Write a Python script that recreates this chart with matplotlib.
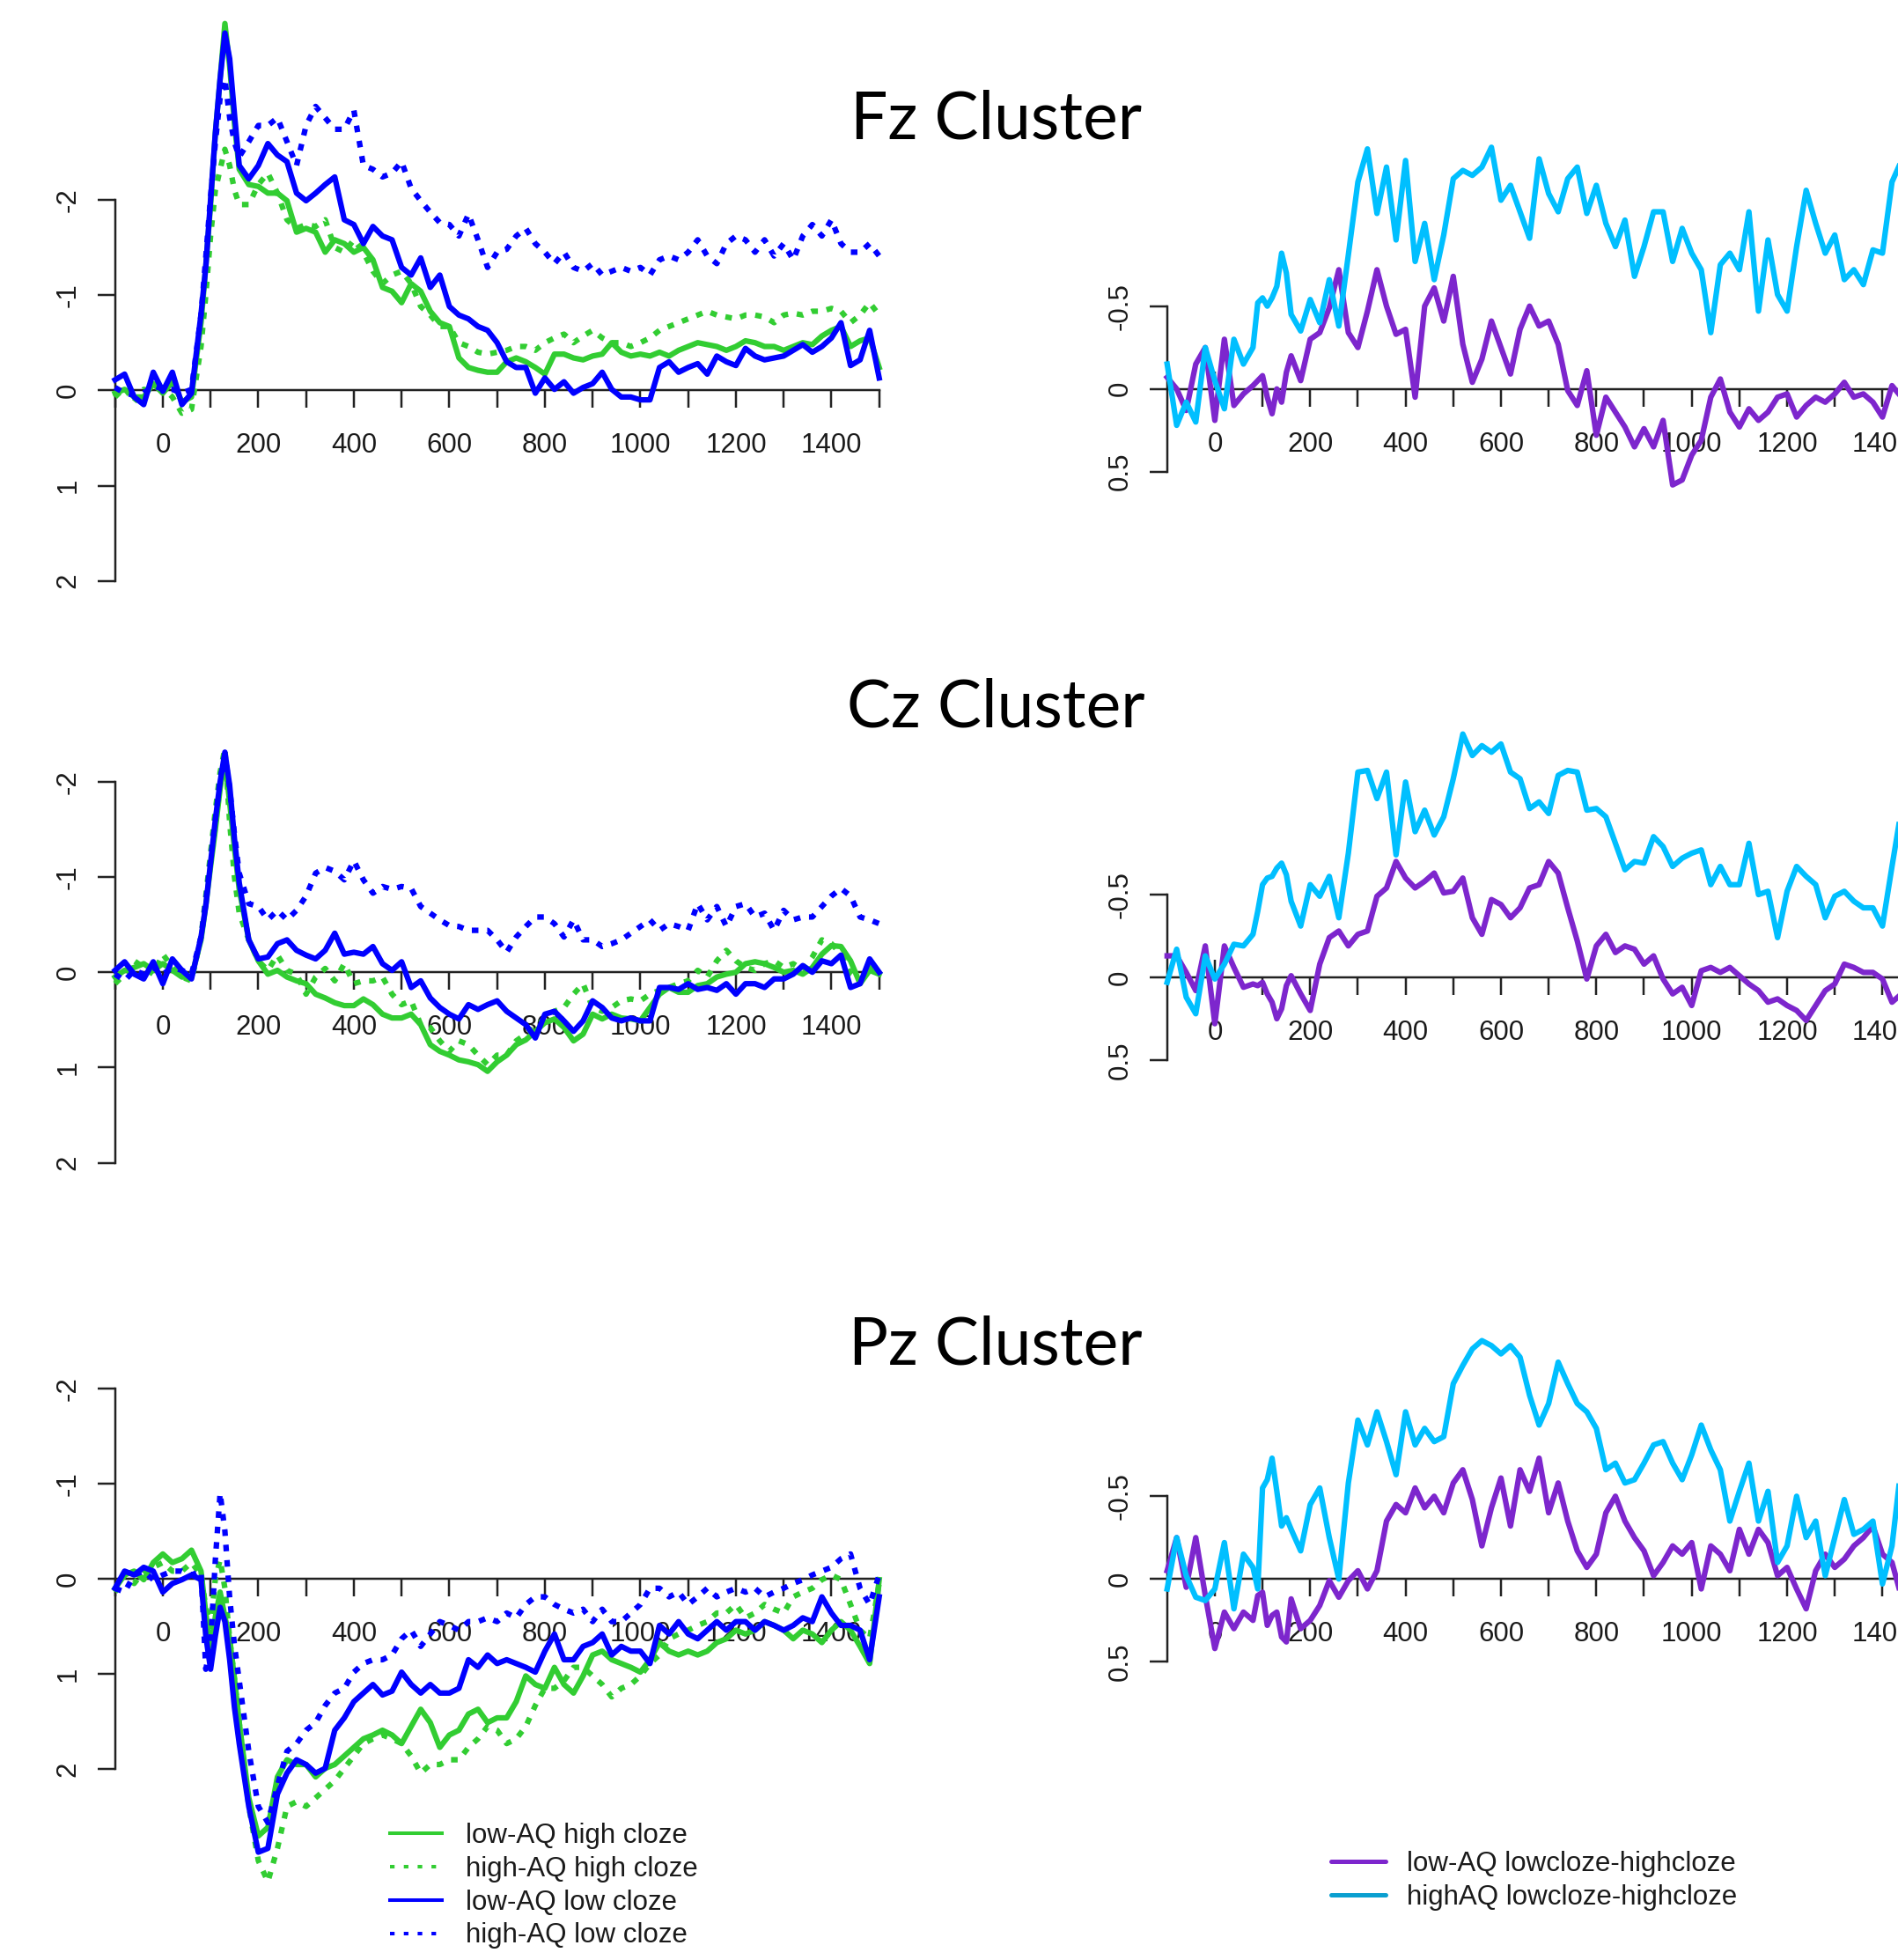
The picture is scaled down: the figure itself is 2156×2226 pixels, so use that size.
import matplotlib.pyplot as plt
from matplotlib.lines import Line2D

plt.rcParams['font.family'] = 'Liberation Sans'

# Sample times (ms); extra samples around the early peak
TIME = [-100, -80, -60, -40, -20, 0, 20, 40, 60, 80,
        90, 100, 110, 120, 130, 140, 150, 160] + list(range(180, 1501, 20))
TIME_DIFF = TIME[:82]  # difference waves, up to 1440 ms

# ---- Fz cluster, grand averages (uV, negative up) ----
fz_lowaq_high = [0.03, -0.01, 0.07, 0.07, -0.07, 0.03, -0.09, 0.12, 0.07, -0.71,
                 -1.30, -1.95, -2.70, -3.27, -3.85, -3.40, -2.80, -2.32,
                 -2.16, -2.14, -2.07, -2.07, -1.99, -1.66, -1.70, -1.66, -1.45, -1.58,
                 -1.54, -1.45, -1.50, -1.37, -1.08, -1.04, -0.92, -1.12, -1.04, -0.83,
                 -0.71, -0.67, -0.34, -0.24, -0.21, -0.19, -0.19, -0.30, -0.34, -0.30,
                 -0.24, -0.17, -0.38, -0.38, -0.34, -0.32, -0.36, -0.38, -0.50, -0.40,
                 -0.36, -0.38, -0.36, -0.40, -0.36, -0.42, -0.46, -0.50, -0.48, -0.46,
                 -0.42, -0.46, -0.52, -0.50, -0.46, -0.46, -0.42, -0.46, -0.50, -0.48,
                 -0.57, -0.63, -0.67, -0.46, -0.52, -0.55, -0.24]
fz_highaq_high = [0.07, -0.03, 0.12, -0.01, 0.01, -0.03, 0.07, 0.24, 0.20, -0.46,
                  -1.00, -1.62, -2.10, -2.32, -2.53, -2.36, -2.10, -1.95,
                  -1.95, -2.16, -2.28, -2.07, -1.79, -1.70, -1.74, -1.72, -1.79, -1.50,
                  -1.45, -1.58, -1.45, -1.25, -1.12, -1.21, -1.25, -1.12, -0.88, -0.79,
                  -0.67, -0.67, -0.50, -0.46, -0.40, -0.38, -0.40, -0.42, -0.46, -0.46,
                  -0.42, -0.50, -0.55, -0.59, -0.50, -0.57, -0.63, -0.55, -0.50, -0.50,
                  -0.46, -0.50, -0.55, -0.63, -0.67, -0.71, -0.75, -0.79, -0.83, -0.79,
                  -0.77, -0.75, -0.79, -0.79, -0.77, -0.71, -0.79, -0.81, -0.79, -0.83,
                  -0.83, -0.86, -0.83, -0.71, -0.79, -0.92, -0.79]
fz_lowaq_low = [-0.11, -0.17, 0.07, 0.15, -0.19, 0.01, -0.19, 0.15, 0.03, -0.80,
                -1.30, -2.00, -2.70, -3.27, -3.75, -3.48, -2.90, -2.36,
                -2.22, -2.36, -2.59, -2.47, -2.40, -2.07, -1.99, -2.07, -2.16, -2.24,
                -1.79, -1.74, -1.54, -1.72, -1.62, -1.58, -1.29, -1.21, -1.39, -1.08,
                -1.21, -0.88, -0.79, -0.75, -0.67, -0.63, -0.50, -0.30, -0.24, -0.24,
                0.03, -0.13, -0.01, -0.09, 0.03, -0.03, -0.07, -0.19, -0.01, 0.07,
                0.07, 0.10, 0.10, -0.24, -0.30, -0.19, -0.24, -0.28, -0.17, -0.36,
                -0.30, -0.26, -0.44, -0.36, -0.32, -0.34, -0.36, -0.42, -0.48, -0.40,
                -0.46, -0.55, -0.71, -0.26, -0.32, -0.63, -0.13]
fz_highaq_low = [-0.03, 0.03, 0.05, 0.03, -0.05, -0.01, -0.01, 0.03, -0.01, -0.79,
                 -1.40, -2.03, -2.60, -3.07, -3.27, -2.86, -2.60, -2.45,
                 -2.61, -2.78, -2.78, -2.86, -2.61, -2.36, -2.78, -2.98, -2.86, -2.74,
                 -2.74, -2.94, -2.36, -2.32, -2.24, -2.28, -2.40, -2.12, -1.99, -1.87,
                 -1.76, -1.74, -1.62, -1.85, -1.58, -1.29, -1.45, -1.48, -1.62, -1.70,
                 -1.54, -1.45, -1.33, -1.45, -1.29, -1.25, -1.33, -1.21, -1.25, -1.29,
                 -1.25, -1.29, -1.21, -1.37, -1.41, -1.37, -1.45, -1.58, -1.41, -1.33,
                 -1.54, -1.62, -1.58, -1.45, -1.58, -1.41, -1.54, -1.37, -1.62, -1.74,
                 -1.62, -1.79, -1.54, -1.45, -1.45, -1.54, -1.41]

# ---- Cz cluster ----
cz_lowaq_high = [0.05, -0.02, -0.05, -0.09, -0.02, -0.09, -0.02, 0.05, 0.05, -0.34,
                 -0.70, -1.11, -1.50, -1.93, -2.24, -1.78, -1.30, -0.87,
                 -0.34, -0.12, 0.02, -0.02, 0.05, 0.09, 0.12, 0.23, 0.27, 0.32,
                 0.35, 0.35, 0.28, 0.34, 0.44, 0.48, 0.48, 0.44, 0.55, 0.76,
                 0.83, 0.87, 0.92, 0.94, 0.97, 1.04, 0.94, 0.87, 0.76, 0.71,
                 0.62, 0.53, 0.49, 0.58, 0.72, 0.65, 0.44, 0.49, 0.44, 0.48,
                 0.49, 0.51, 0.37, 0.23, 0.16, 0.21, 0.21, 0.14, 0.12, 0.05,
                 0.02, 0.00, -0.09, -0.11, -0.09, -0.05, 0.00, -0.02, 0.02, -0.05,
                 -0.19, -0.28, -0.27, -0.12, 0.12, -0.02, 0.02]
cz_highaq_high = [0.12, 0.02, -0.12, -0.05, 0.02, -0.19, -0.05, 0.05, 0.09, -0.37,
                  -0.80, -1.25, -1.70, -2.10, -2.35, -1.57, -1.00, -0.62,
                  -0.34, -0.12, -0.02, -0.18, -0.02, 0.02, 0.23, 0.05, -0.04, 0.09,
                  -0.09, 0.12, 0.09, 0.09, 0.05, 0.23, 0.34, 0.30, 0.55, 0.58,
                  0.72, 0.83, 0.72, 0.76, 0.87, 0.97, 0.87, 0.87, 0.72, 0.65,
                  0.58, 0.48, 0.41, 0.37, 0.23, 0.12, 0.37, 0.41, 0.37, 0.30,
                  0.28, 0.30, 0.23, 0.19, 0.16, 0.12, 0.09, -0.02, 0.05, -0.12,
                  -0.23, -0.12, -0.05, -0.02, -0.09, -0.12, -0.05, -0.09, -0.02, -0.16,
                  -0.34, -0.30, -0.19, 0.02, 0.09, -0.05, 0.02]
cz_lowaq_low = [-0.02, -0.11, 0.02, 0.07, -0.11, 0.12, -0.14, -0.02, 0.07, -0.37,
                -0.70, -1.15, -1.60, -2.00, -2.31, -1.96, -1.40, -0.94,
                -0.34, -0.14, -0.16, -0.30, -0.34, -0.23, -0.18, -0.14, -0.23, -0.41,
                -0.19, -0.21, -0.19, -0.27, -0.09, -0.02, -0.11, 0.16, 0.09, 0.27,
                0.37, 0.44, 0.49, 0.34, 0.39, 0.34, 0.30, 0.41, 0.48, 0.55,
                0.69, 0.44, 0.41, 0.51, 0.62, 0.51, 0.30, 0.37, 0.48, 0.51,
                0.48, 0.51, 0.51, 0.16, 0.16, 0.18, 0.12, 0.18, 0.16, 0.19,
                0.12, 0.23, 0.12, 0.12, 0.16, 0.07, 0.07, 0.02, -0.07, 0.00,
                -0.12, -0.09, -0.18, 0.16, 0.12, -0.14, 0.00]
cz_highaq_low = [0.02, 0.09, -0.02, 0.02, -0.05, 0.02, -0.05, -0.02, 0.02, -0.37,
                 -0.75, -1.18, -1.60, -2.03, -2.28, -1.93, -1.45, -1.04,
                 -0.72, -0.69, -0.55, -0.65, -0.55, -0.65, -0.80, -1.04, -1.10, -1.06,
                 -0.97, -1.17, -0.97, -0.83, -0.90, -0.87, -0.90, -0.88, -0.69, -0.62,
                 -0.55, -0.49, -0.48, -0.44, -0.44, -0.44, -0.34, -0.21, -0.37, -0.48,
                 -0.58, -0.58, -0.51, -0.37, -0.55, -0.34, -0.34, -0.27, -0.30, -0.34,
                 -0.41, -0.48, -0.55, -0.44, -0.51, -0.48, -0.44, -0.72, -0.55, -0.69,
                 -0.48, -0.69, -0.72, -0.58, -0.62, -0.44, -0.65, -0.55, -0.58, -0.58,
                 -0.69, -0.80, -0.88, -0.80, -0.58, -0.55, -0.51]

# ---- Pz cluster ----
pz_lowaq_high = [0.10, -0.04, -0.08, 0.01, -0.17, -0.26, -0.17, -0.21, -0.30, -0.08,
                 0.36, 0.76, 0.40, 0.14, 0.40, 0.63, 1.05, 1.51,
                 2.30, 2.70, 2.61, 2.08, 1.90, 1.95, 1.95, 2.08, 1.99, 1.95,
                 1.86, 1.77, 1.68, 1.64, 1.59, 1.64, 1.73, 1.55, 1.37, 1.51,
                 1.77, 1.64, 1.59, 1.42, 1.37, 1.51, 1.46, 1.46, 1.29, 1.02,
                 1.11, 1.15, 0.93, 1.11, 1.20, 1.02, 0.80, 0.76, 0.85, 0.89,
                 0.93, 0.98, 0.85, 0.67, 0.76, 0.80, 0.76, 0.80, 0.76, 0.67,
                 0.63, 0.54, 0.58, 0.54, 0.45, 0.49, 0.54, 0.63, 0.54, 0.58,
                 0.67, 0.54, 0.45, 0.54, 0.71, 0.89, 0.01]
pz_highaq_high = [0.14, -0.04, 0.05, -0.08, -0.12, -0.17, -0.08, -0.08, -0.17, -0.04,
                  0.30, 0.50, 0.00, -0.20, 0.10, 0.63, 1.05, 1.51,
                  2.39, 2.96, 3.18, 2.83, 2.39, 2.34, 2.39, 2.30, 2.21, 2.12,
                  1.99, 1.86, 1.73, 1.68, 1.64, 1.68, 1.73, 1.86, 2.04, 1.95,
                  1.95, 1.90, 1.90, 1.77, 1.68, 1.55, 1.59, 1.73, 1.68, 1.55,
                  1.33, 1.15, 1.15, 1.07, 0.93, 0.93, 1.02, 1.11, 1.24, 1.15,
                  1.11, 1.02, 0.89, 0.80, 0.63, 0.58, 0.54, 0.49, 0.45, 0.36,
                  0.36, 0.27, 0.41, 0.36, 0.27, 0.32, 0.36, 0.19, 0.14, 0.10,
                  0.01, -0.04, 0.01, 0.27, 0.54, 0.63, 0.05]
pz_lowaq_low = [0.10, -0.08, -0.04, -0.12, -0.08, 0.14, 0.05, 0.01, -0.04, 0.01,
                0.60, 0.95, 0.60, 0.30, 0.45, 0.85, 1.35, 1.73,
                2.39, 2.87, 2.83, 2.26, 2.04, 1.90, 1.95, 2.04, 1.99, 1.59,
                1.46, 1.29, 1.20, 1.11, 1.22, 1.18, 0.98, 1.11, 1.20, 1.11,
                1.20, 1.20, 1.15, 0.85, 0.93, 0.80, 0.89, 0.85, 0.89, 0.93,
                0.98, 0.76, 0.58, 0.85, 0.85, 0.71, 0.67, 0.58, 0.80, 0.71,
                0.76, 0.76, 0.89, 0.49, 0.58, 0.45, 0.58, 0.63, 0.54, 0.45,
                0.54, 0.45, 0.45, 0.54, 0.45, 0.49, 0.54, 0.49, 0.41, 0.45,
                0.19, 0.36, 0.49, 0.49, 0.54, 0.85, 0.19]
pz_highaq_low = [0.10, 0.14, -0.04, -0.08, 0.01, -0.04, -0.08, -0.08, -0.04, -0.08,
                 0.95, 0.70, -0.20, -0.90, -0.50, 0.20, 0.70, 1.07,
                 1.81, 2.39, 2.56, 2.17, 1.81, 1.73, 1.59, 1.51, 1.33, 1.20,
                 1.15, 0.98, 0.89, 0.85, 0.85, 0.80, 0.63, 0.54, 0.71, 0.58,
                 0.45, 0.49, 0.54, 0.45, 0.45, 0.41, 0.45, 0.36, 0.41, 0.27,
                 0.19, 0.19, 0.27, 0.32, 0.36, 0.32, 0.45, 0.32, 0.45, 0.45,
                 0.36, 0.27, 0.10, 0.10, 0.19, 0.14, 0.27, 0.19, 0.10, 0.19,
                 0.14, 0.10, 0.14, 0.10, 0.19, 0.14, 0.10, 0.05, 0.01, -0.04,
                 -0.08, -0.12, -0.21, -0.26, 0.10, 0.27, -0.04]

# ---- difference waves (low cloze - high cloze) ----
fz_diff_lowaq = [-0.07, 0.00, 0.13, -0.15, -0.25, 0.19, -0.30, 0.10, 0.03, -0.02,
                 -0.05, -0.08, 0.05, 0.15, 0.00, 0.08, -0.10, -0.20,
                 -0.05, -0.30, -0.34, -0.49, -0.72, -0.34, -0.25, -0.47, -0.72, -0.50,
                 -0.33, -0.36, 0.05, -0.50, -0.61, -0.41, -0.68, -0.27, -0.04, -0.18,
                 -0.41, -0.25, -0.09, -0.36, -0.50, -0.38, -0.41, -0.27, 0.01, 0.10,
                 -0.11, 0.28, 0.05, 0.14, 0.23, 0.35, 0.24, 0.35, 0.19, 0.58,
                 0.55, 0.40, 0.31, 0.05, -0.06, 0.14, 0.23, 0.12, 0.19, 0.14,
                 0.05, 0.03, 0.17, 0.10, 0.05, 0.08, 0.03, -0.04, 0.05, 0.03,
                 0.08, 0.17, -0.02, 0.05]
fz_diff_highaq = [-0.15, 0.22, 0.08, 0.20, -0.25, -0.05, 0.12, -0.30, -0.15, -0.25,
                  -0.52, -0.55, -0.50, -0.55, -0.62, -0.82, -0.70, -0.45,
                  -0.35, -0.54, -0.40, -0.66, -0.38, -0.81, -1.25, -1.45, -1.06, -1.34,
                  -0.90, -1.38, -0.77, -1.00, -0.66, -0.93, -1.27, -1.32, -1.29, -1.34,
                  -1.46, -1.14, -1.23, -1.07, -0.91, -1.39, -1.18, -1.07, -1.27, -1.34,
                  -1.06, -1.23, -1.00, -0.86, -1.02, -0.68, -0.86, -1.07, -1.07, -0.77,
                  -0.97, -0.82, -0.72, -0.34, -0.75, -0.82, -0.72, -1.07, -0.47, -0.90,
                  -0.57, -0.47, -0.86, -1.20, -1.00, -0.82, -0.93, -0.66, -0.72, -0.63,
                  -0.84, -0.82, -1.25, -1.38]
cz_diff_lowaq = [-0.13, -0.13, -0.03, 0.08, -0.19, 0.28, -0.19, -0.06, 0.06, 0.04,
                 0.05, 0.03, 0.10, 0.15, 0.25, 0.19, 0.05, -0.01,
                 0.10, 0.20, -0.08, -0.24, -0.28, -0.19, -0.26, -0.28, -0.49, -0.54,
                 -0.70, -0.60, -0.54, -0.58, -0.63, -0.51, -0.52, -0.60, -0.36, -0.26,
                 -0.47, -0.44, -0.36, -0.42, -0.54, -0.56, -0.70, -0.63, -0.42, -0.22,
                 0.01, -0.19, -0.26, -0.15, -0.19, -0.17, -0.08, -0.13, 0.01, 0.10,
                 0.06, 0.17, -0.04, -0.06, -0.03, -0.06, -0.01, 0.04, 0.08, 0.15,
                 0.13, 0.17, 0.20, 0.26, 0.17, 0.08, 0.04, -0.08, -0.06, -0.03,
                 -0.03, 0.01, 0.15, 0.10]
cz_diff_highaq = [0.03, -0.17, 0.12, 0.22, -0.13, 0.01, -0.08, -0.20, -0.19, -0.26,
                  -0.40, -0.56, -0.60, -0.61, -0.66, -0.69, -0.62, -0.46,
                  -0.31, -0.56, -0.49, -0.61, -0.36, -0.75, -1.24, -1.25, -1.08, -1.24,
                  -0.74, -1.18, -0.88, -1.01, -0.86, -0.97, -1.20, -1.47, -1.34, -1.40,
                  -1.36, -1.41, -1.24, -1.20, -1.02, -1.06, -0.99, -1.22, -1.25, -1.24,
                  -1.01, -1.02, -0.97, -0.81, -0.65, -0.70, -0.69, -0.85, -0.79, -0.67,
                  -0.72, -0.75, -0.77, -0.56, -0.67, -0.56, -0.56, -0.81, -0.50, -0.52,
                  -0.24, -0.52, -0.67, -0.61, -0.56, -0.36, -0.49, -0.52, -0.46, -0.42,
                  -0.42, -0.31, -0.67, -1.02]
pz_diff_lowaq = [-0.05, -0.25, 0.05, -0.25, 0.10, 0.42, 0.20, 0.30, 0.20, 0.25,
                 0.10, 0.08, 0.28, 0.22, 0.20, 0.35, 0.38, 0.12,
                 0.30, 0.25, 0.16, 0.01, 0.11, 0.01, -0.05, 0.06, -0.05, -0.35,
                 -0.45, -0.40, -0.55, -0.43, -0.50, -0.40, -0.58, -0.66, -0.48, -0.20,
                 -0.43, -0.61, -0.32, -0.66, -0.53, -0.73, -0.40, -0.58, -0.35, -0.17,
                 -0.07, -0.15, -0.40, -0.50, -0.35, -0.25, -0.17, -0.02, -0.10, -0.20,
                 -0.15, -0.22, 0.06, -0.20, -0.15, -0.05, -0.30, -0.15, -0.30, -0.22,
                 -0.02, -0.07, 0.06, 0.18, -0.05, -0.15, -0.07, -0.12, -0.20, -0.25,
                 -0.32, -0.15, -0.10, 0.11]
pz_diff_highaq = [0.06, -0.25, -0.02, 0.11, 0.13, 0.06, -0.22, 0.18, -0.15, -0.07,
                  0.06, -0.55, -0.60, -0.73, -0.53, -0.32, -0.37, -0.30,
                  -0.17, -0.45, -0.55, -0.25, 0.00, -0.58, -0.96, -0.81, -1.01, -0.83,
                  -0.63, -1.01, -0.81, -0.91, -0.83, -0.86, -1.18, -1.29, -1.39, -1.44,
                  -1.41, -1.36, -1.41, -1.34, -1.11, -0.93, -1.06, -1.31, -1.18, -1.06,
                  -1.01, -0.91, -0.66, -0.70, -0.58, -0.60, -0.70, -0.81, -0.83, -0.70,
                  -0.60, -0.75, -0.93, -0.78, -0.66, -0.35, -0.53, -0.70, -0.35, -0.53,
                  -0.10, -0.20, -0.50, -0.25, -0.35, -0.02, -0.25, -0.48, -0.27, -0.30,
                  -0.35, 0.03, -0.20, -0.70]

cond_labels = ['low-AQ high cloze', 'high-AQ high cloze',
               'low-AQ low cloze', 'high-AQ low cloze']
diff_labels = ['low-AQ lowcloze-highcloze', 'highAQ lowcloze-highcloze']
clusters = ['Fz Cluster', 'Cz Cluster', 'Pz Cluster']

GREEN = '#32cd32'
BLUE = '#0000ff'
PURPLE = '#7d26cd'
CYAN = '#00bfff'
CYAN_KEY = '#0a9fd0'
AXIS_COL = '#222222'
DOT = (0, (1.2, 1.6))
LW = 4.5

W, H = 2156, 2226
fig = plt.figure(figsize=(W / 100, H / 100), dpi=100)
fig.patch.set_facecolor('white')

PT = 72 / 100  # points per pixel


def make_axes(x0, ms_px, y0, unit_px, vtop, vbot):
    # x0: pixel of t=-100, y0: pixel of the zero line
    top = y0 + vtop * unit_px
    bottom = y0 + vbot * unit_px
    ax = fig.add_axes([x0 / W, 1 - bottom / H, 1600 * ms_px / W, (bottom - top) / H])
    ax.set_xlim(-100, 1500)
    ax.set_ylim(vbot, vtop)
    ax.patch.set_alpha(0)
    ax.spines['top'].set_visible(False)
    ax.spines['right'].set_visible(False)
    ax.spines['left'].set_position(('data', -100))
    ax.spines['bottom'].set_position(('data', 0))
    ax.spines['bottom'].set_bounds(-100, 1500)
    for s in ('left', 'bottom'):
        ax.spines[s].set_linewidth(2.5 * PT)
        ax.spines[s].set_color(AXIS_COL)
    ax.tick_params(length=20 * PT, width=2.5 * PT, color=AXIS_COL,
                   labelsize=22.5, labelcolor='#1a1a1a')
    ax.tick_params(axis='x', pad=28 * PT)
    ax.tick_params(axis='y', pad=18 * PT)
    return ax


def xlabels(ticks):
    return [str(t) if (t % 200 == 0 and 0 <= t <= 1400) else '' for t in ticks]


def set_yticks(ax, ticks, labels):
    ax.set_yticks(ticks, labels=labels)
    for lab in ax.get_yticklabels():
        lab.set_rotation(90)
        lab.set_va('center')


erp = [(fz_lowaq_high, fz_highaq_high, fz_lowaq_low, fz_highaq_low),
       (cz_lowaq_high, cz_highaq_high, cz_lowaq_low, cz_highaq_low),
       (pz_lowaq_high, pz_highaq_high, pz_lowaq_low, pz_highaq_low)]
diffs = [(fz_diff_lowaq, fz_diff_highaq),
         (cz_diff_lowaq, cz_diff_highaq),
         (pz_diff_lowaq, pz_diff_highaq)]

# panel geometry (pixels)
left_zero = [443.3, 1104.2, 1793.0]
left_span = [(-4.1, 2.2), (-2.6, 2.2), (-2.2, 3.4)]
right_zero = [441.7, 1110.0, 1793.3]
title_base = [158, 825, 1549]

for i in range(3):
    # grand averages
    ax = make_axes(130.7, 0.5425, left_zero[i], 108.2, *left_span[i])
    ax.spines['left'].set_bounds(-2, 2)
    xt = list(range(-100, 1501, 100))
    ax.set_xticks(xt, labels=xlabels(xt))
    set_yticks(ax, [-2, -1, 0, 1, 2], ['-2', '-1', '0', '1', '2'])
    a, b, c, d = erp[i]
    ax.plot(TIME, a, color=GREEN, lw=LW, zorder=3, clip_on=False)
    ax.plot(TIME, b, color=GREEN, lw=LW, ls=DOT, zorder=3, clip_on=False)
    ax.plot(TIME, c, color=BLUE, lw=LW, zorder=3, clip_on=False)
    ax.plot(TIME, d, color=BLUE, lw=LW, ls=DOT, zorder=3, clip_on=False)
    if i == 2:
        keys = [Line2D([], [], color=GREEN, lw=2.9),
                Line2D([], [], color=GREEN, lw=2.9, ls=(0, (1.3, 2.6))),
                Line2D([], [], color=BLUE, lw=2.9),
                Line2D([], [], color=BLUE, lw=2.9, ls=(0, (1.3, 2.6)))]
        ax.legend(keys, cond_labels, loc='upper left',
                  bbox_to_anchor=(443 / W, 1 - 2070 / H), bbox_transform=fig.transFigure,
                  frameon=False, fontsize=22.5, handlelength=1.9, handletextpad=0.84,
                  labelspacing=0.25, borderpad=0, borderaxespad=0,
                  labelcolor='#1a1a1a')

    # difference waves
    ax = make_axes(1325.8, 0.5417, right_zero[i], 188.0, -1.6, 0.7)
    ax.spines['left'].set_bounds(-0.5, 0.5)
    xt = list(range(100, 1501, 100))
    ax.set_xticks(xt, labels=xlabels(xt))
    ax.set_xticks([0], labels=['0'], minor=True)
    if i < 2:
        ax.tick_params(axis='x', which='minor', direction='in', length=20 * PT,
                       width=2.5 * PT, color=AXIS_COL, labelsize=22.5,
                       labelcolor='#1a1a1a', pad=48 * PT)
    else:
        ax.tick_params(axis='x', which='minor', direction='out', length=20 * PT,
                       width=2.5 * PT, color=AXIS_COL, labelsize=22.5,
                       labelcolor='#1a1a1a', pad=28 * PT)
    set_yticks(ax, [-0.5, 0, 0.5], ['-0.5', '0', '0.5'])
    lo, hi = diffs[i]
    ax.plot(TIME_DIFF, lo, color=PURPLE, lw=LW, zorder=3, clip_on=False)
    ax.plot(TIME_DIFF, hi, color=CYAN, lw=LW, zorder=3, clip_on=False)
    if i == 2:
        keys = [Line2D([], [], color=PURPLE, lw=3.6, solid_capstyle='round'),
                Line2D([], [], color=CYAN_KEY, lw=3.6, solid_capstyle='round')]
        ax.legend(keys, diff_labels, loc='upper left',
                  bbox_to_anchor=(1512 / W, 1 - 2102 / H), bbox_transform=fig.transFigure,
                  frameon=False, fontsize=22.5, handlelength=1.97, handletextpad=0.78,
                  labelspacing=0.25, borderpad=0, borderaxespad=0,
                  labelcolor='#1a1a1a')

    fig.text(1131 / W, 1 - title_base[i] / H, clusters[i], ha='center', va='baseline',
             fontsize=54, family='Lato', color='black')

fig.savefig('out.png', dpi=100, facecolor='white')
